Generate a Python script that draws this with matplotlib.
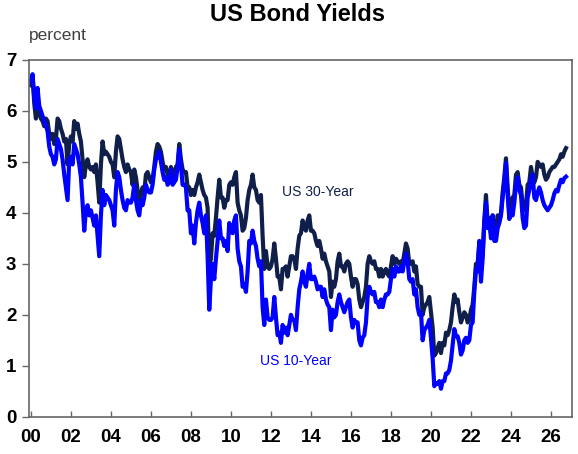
import matplotlib
matplotlib.use('Agg')
import matplotlib.pyplot as plt
import numpy as np

plt.rcParams['font.family'] = ['Liberation Sans', 'DejaVu Sans']

# monthly readings, Jan 2000 .. Oct 2026 (percent)
us10 = [
    6.58, 6.72, 6.25, 6.05, 6.45, 6.10, 6.00, 5.90, 5.80, 5.72, 5.60, 5.30,  # 2000
    5.15, 5.10, 4.95, 5.05, 5.45, 5.35, 5.25, 5.05, 4.75, 4.50, 4.25, 5.05,  # 2001
    5.10, 4.95, 5.35, 5.25, 5.15, 4.95, 4.70, 4.20, 3.65, 4.05, 4.15, 3.95,  # 2002
    4.05, 3.90, 3.75, 3.95, 3.55, 3.15, 3.95, 4.45, 4.15, 4.35, 4.30, 4.25,  # 2003
    4.15, 4.05, 3.75, 4.45, 4.80, 4.70, 4.45, 4.25, 4.10, 4.05, 4.25, 4.20,  # 2004
    4.20, 4.30, 4.55, 4.25, 4.05, 3.95, 4.25, 4.15, 4.30, 4.55, 4.45, 4.40,  # 2005
    4.40, 4.55, 4.85, 5.05, 5.10, 5.20, 5.00, 4.80, 4.65, 4.70, 4.55, 4.60,  # 2006
    4.85, 4.55, 4.60, 4.65, 4.90, 5.25, 4.95, 4.55, 4.55, 4.50, 4.05, 4.05,  # 2007
    3.60, 3.75, 3.40, 3.80, 4.05, 4.20, 3.95, 3.80, 3.60, 3.95, 3.15, 2.10,  # 2008
    2.70, 3.00, 2.70, 3.10, 3.45, 3.85, 3.50, 3.50, 3.35, 3.45, 3.25, 3.80,  # 2009
    3.65, 3.60, 3.85, 3.95, 3.30, 3.05, 2.95, 2.55, 2.60, 2.45, 2.85, 3.45,  # 2010
    3.40, 3.65, 3.45, 3.35, 3.10, 2.95, 3.05, 2.15, 1.80, 2.30, 1.95, 1.90,  # 2011
    1.90, 1.95, 2.35, 1.95, 1.60, 1.65, 1.45, 1.80, 1.65, 1.75, 1.60, 1.80,  # 2012
    2.00, 1.90, 1.90, 1.70, 2.15, 2.50, 2.65, 2.85, 2.65, 2.55, 2.80, 3.00,  # 2013
    2.70, 2.70, 2.75, 2.65, 2.50, 2.55, 2.55, 2.35, 2.50, 2.30, 2.20, 2.15,  # 2014
    1.70, 2.10, 1.95, 2.00, 2.25, 2.40, 2.25, 2.15, 2.05, 2.15, 2.25, 2.30,  # 2015
    1.95, 1.75, 1.90, 1.85, 1.85, 1.50, 1.40, 1.55, 1.60, 1.85, 2.35, 2.55,  # 2016
    2.45, 2.40, 2.45, 2.25, 2.25, 2.15, 2.30, 2.15, 2.30, 2.40, 2.40, 2.45,  # 2017
    2.70, 2.90, 2.75, 2.95, 2.85, 2.85, 2.95, 2.85, 3.05, 3.20, 3.05, 2.70,  # 2018
    2.65, 2.70, 2.40, 2.50, 2.15, 2.00, 2.05, 1.50, 1.70, 1.75, 1.80, 1.90,  # 2019
    1.55, 1.15, 0.60, 0.65, 0.65, 0.70, 0.55, 0.70, 0.70, 0.85, 0.85, 0.92,  # 2020
    1.10, 1.40, 1.72, 1.58, 1.58, 1.45, 1.22, 1.30, 1.50, 1.55, 1.45, 1.50,  # 2021
    1.80, 1.85, 2.45, 2.90, 2.85, 3.45, 2.65, 3.10, 3.80, 4.20, 3.70, 3.85,  # 2022
    3.50, 3.95, 3.45, 3.45, 3.70, 3.80, 3.95, 4.30, 4.60, 4.98, 4.35, 3.88,  # 2023
    4.00, 3.95, 4.20, 4.55, 4.70, 4.45, 4.35, 3.90, 3.70, 3.75, 4.30, 4.45,  # 2024
    4.65, 4.75, 4.30, 4.25, 4.40, 4.50, 4.40, 4.25, 4.15, 4.10, 4.05, 4.10,  # 2025
    4.15, 4.25, 4.38, 4.45, 4.42, 4.55, 4.65, 4.60, 4.68, 4.71,              # 2026
]
us30 = [
    6.50, 6.70, 6.15, 5.85, 6.10, 5.95, 5.85, 5.80, 5.70, 5.85, 5.80, 5.55,  # 2000
    5.45, 5.55, 5.35, 5.45, 5.85, 5.80, 5.65, 5.55, 5.40, 5.45, 4.95, 5.35,  # 2001
    5.50, 5.40, 5.80, 5.65, 5.75, 5.55, 5.40, 5.05, 4.70, 4.95, 5.05, 4.90,  # 2002
    4.85, 4.90, 4.80, 4.95, 4.60, 4.20, 4.95, 5.40, 5.15, 5.20, 5.15, 5.10,  # 2003
    5.00, 4.95, 4.70, 5.20, 5.50, 5.45, 5.25, 5.05, 4.90, 4.80, 4.95, 4.85,  # 2004
    4.80, 4.55, 4.85, 4.70, 4.45, 4.25, 4.35, 4.50, 4.40, 4.75, 4.80, 4.70,  # 2005
    4.60, 4.65, 4.90, 5.20, 5.35, 5.30, 5.20, 5.00, 4.85, 4.90, 4.75, 4.65,  # 2006
    4.90, 4.80, 4.70, 4.90, 4.95, 5.35, 5.05, 4.85, 4.80, 4.80, 4.50, 4.50,  # 2007
    4.35, 4.45, 4.35, 4.50, 4.60, 4.75, 4.60, 4.45, 4.35, 4.30, 4.10, 2.95,  # 2008
    3.10, 3.60, 3.55, 3.90, 4.30, 4.65, 4.30, 4.30, 4.10, 4.25, 4.25, 4.55,  # 2009
    4.60, 4.55, 4.70, 4.80, 4.20, 4.05, 3.95, 3.65, 3.70, 3.90, 4.25, 4.45,  # 2010
    4.55, 4.75, 4.50, 4.45, 4.25, 4.20, 4.35, 3.55, 2.90, 3.25, 2.95, 2.90,  # 2011
    2.95, 3.10, 3.40, 3.10, 2.75, 2.75, 2.50, 2.90, 2.90, 2.95, 2.75, 2.95,  # 2012
    3.15, 3.15, 3.10, 2.90, 3.30, 3.55, 3.60, 3.85, 3.70, 3.65, 3.85, 3.95,  # 2013
    3.65, 3.65, 3.60, 3.45, 3.35, 3.45, 3.30, 3.10, 3.20, 3.05, 2.95, 2.85,  # 2014
    2.35, 2.65, 2.55, 2.70, 3.05, 3.20, 2.95, 2.95, 2.85, 3.00, 3.05, 3.00,  # 2015
    2.75, 2.55, 2.70, 2.70, 2.60, 2.30, 2.15, 2.25, 2.35, 2.55, 3.00, 3.15,  # 2016
    3.05, 3.00, 3.05, 2.90, 2.90, 2.75, 2.90, 2.75, 2.85, 2.90, 2.80, 2.75,  # 2017
    2.95, 3.15, 3.00, 3.10, 3.05, 3.00, 3.05, 3.00, 3.20, 3.40, 3.30, 3.00,  # 2018
    3.00, 3.05, 2.85, 2.95, 2.60, 2.55, 2.55, 2.00, 2.15, 2.20, 2.25, 2.35,  # 2019
    2.05, 1.75, 1.20, 1.25, 1.35, 1.45, 1.25, 1.45, 1.40, 1.65, 1.60, 1.70,  # 2020
    1.85, 2.15, 2.40, 2.25, 2.30, 2.05, 1.85, 1.95, 2.05, 2.00, 1.85, 1.90,  # 2021
    2.10, 2.20, 2.55, 3.00, 3.00, 3.40, 2.95, 3.20, 3.85, 4.35, 3.80, 3.90,  # 2022
    3.60, 3.95, 3.65, 3.65, 3.95, 3.85, 4.00, 4.40, 4.70, 5.07, 4.50, 4.00,  # 2023
    4.20, 4.30, 4.35, 4.75, 4.80, 4.55, 4.50, 4.15, 4.05, 4.15, 4.55, 4.60,  # 2024
    4.90, 4.70, 4.60, 4.70, 5.00, 4.95, 4.90, 4.95, 4.75, 4.65, 4.70, 4.80,  # 2025
    4.85, 4.90, 4.90, 4.95, 5.00, 5.05, 5.15, 5.10, 5.20, 5.27,              # 2026
]
dates = 2000 + np.arange(len(us10)) / 12.0

xticks = list(range(2000, 2027, 2))
xlabels = ['%02d' % (y % 100) for y in xticks]

navy = '#0F1F4A'
blue = '#0000FF'

fig = plt.figure(figsize=(5.78, 4.54), dpi=100)
ax = fig.add_axes([0.050, 0.082, 0.9396, 0.786])

ax.plot(dates, us30, color=navy, lw=3.0)
ax.plot(dates, us10, color=blue, lw=3.0)

ax.set_xlim(1999.9, 2027.05)
ax.set_ylim(0, 7)
ax.set_xticks(xticks)
ax.set_xticklabels(xlabels)
ax.set_yticks(range(0, 8))

ax.tick_params(axis='x', direction='in', length=4, width=1, color='#666666',
               pad=9, labelsize=13.5)
ax.tick_params(axis='y', direction='out', length=5, width=1, color='#666666',
               pad=4, labelsize=13.5)
for lab in ax.get_xticklabels() + ax.get_yticklabels():
    lab.set_fontweight('bold')
for sp in ax.spines.values():
    sp.set_color('#666666')
    sp.set_linewidth(1.2)

ax.text(2012.55, 4.41, 'US 30-Year', color=navy, fontsize=10, va='center')
ax.text(2011.45, 1.09, 'US 10-Year', color=blue, fontsize=10, va='center')

fig.text(0.050, 0.905, 'percent', color='#404040', fontsize=12.5, ha='left', va='bottom')
fig.text(0.515, 0.968, 'US Bond Yields', fontsize=17, fontweight='bold',
         ha='center', va='center')

fig.savefig('out.png', dpi=100)
